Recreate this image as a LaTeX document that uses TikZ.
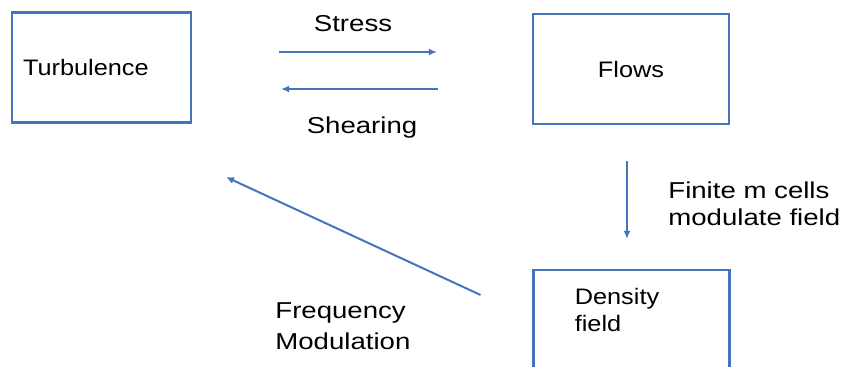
\documentclass[tikz,border=0pt]{standalone}
\usepackage{fontspec}
\usepackage{xcolor}
\usepackage{tikz}
\usetikzlibrary{arrows.meta}

\newfontfamily\boxfont[FakeStretch=1.13]{Liberation Sans}
\newfontfamily\edgefont[FakeStretch=1.2]{Liberation Sans}
\definecolor{lineblue}{RGB}{70,116,188}

\begin{document}
\begin{tikzpicture}[x=0.5pt, y=-0.5pt, >={Latex[length=4pt,width=3.5pt]},
  block/.style={rectangle, draw=lineblue, line width=1.1pt, minimum width=98pt, minimum height=55pt,
    font=\boxfont\fontsize{11.2pt}{13.5pt}\selectfont},
  boxtext/.style={inner sep=0pt, align=left, font=\boxfont\fontsize{11.2pt}{13.5pt}\selectfont},
  edgelabel/.style={inner sep=0pt, align=left, font=\edgefont\fontsize{11.5pt}{13.5pt}\selectfont},
  arrow/.style={->, draw=lineblue, line width=1pt}]

  \useasboundingbox (0,0) rectangle (845,366);
  \clip (0,0) rectangle (845,366);

  \node[block, minimum width=89.5pt, text width=78.5pt, inner xsep=5.5pt, align=left] (turb) at (101.5,67.5) {Turbulence};
  \node[block] (flows) at (631,69) {Flows};
  \node[block] (dens) at (631.5,325) {};
  \node[boxtext, anchor=north west] (denstext) at ([shift={(42,19)}]dens.north west) {Density\\field};

  \node[edgelabel, anchor=base] (stress) at (353,31) {Stress};
  \node[edgelabel, anchor=base] (shear) at (362,133) {Shearing};
  \node[edgelabel, anchor=north west] (finite) at (668,181) {Finite m cells\\modulate field};
  \node[edgelabel, anchor=north west, font=\edgefont\fontsize{11.5pt}{15.5pt}\selectfont] (freq) at (275,302) {Frequency\\Modulation};
  \coordinate (fmtip) at (226,177);

  \draw[arrow, shorten <=43.5pt, shorten >=47.5pt] ([yshift=7.75pt]turb.east) -- ([yshift=7.75pt]turb.east -| flows.west);
  \draw[arrow, shorten <=47pt, shorten >=44.5pt] ([yshift=-10.75pt]turb.east -| flows.west) -- ([yshift=-10.75pt]turb.east);
  \draw[arrow, shorten <=18pt, shorten >=15pt] ([xshift=-2pt]flows.south) -- ([xshift=-2pt]flows.south |- dens.north);
  \draw[arrow, shorten <=28.6pt] ([yshift=3pt]dens.west) -- (fmtip);

\end{tikzpicture}
\end{document}
